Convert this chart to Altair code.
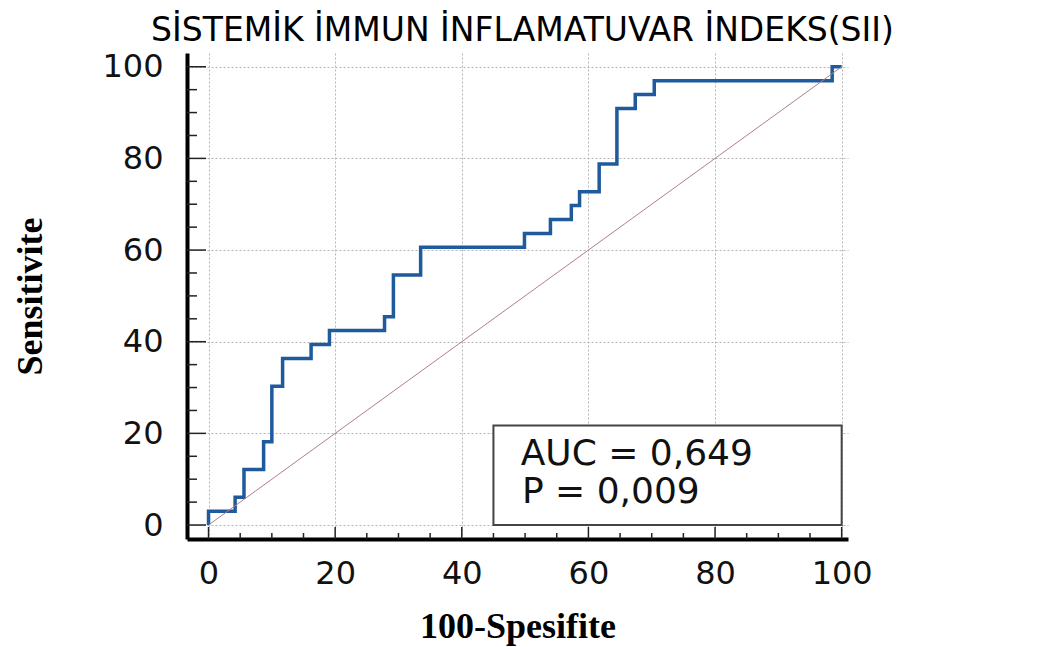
import altair as alt
import pandas as pd

# ROC curve vertices (100-Specificity, Sensitivity)
fpr = [0, 0, 4.2, 5.6, 8.7, 10.0, 11.7, 16.2, 19.1, 27.8, 29.2, 33.5, 49.9, 54.0,
       57.3, 58.6, 61.7, 64.5, 67.4, 70.4, 98.5, 100]
tpr = [0, 3.03, 6.06, 12.12, 18.18, 30.30, 36.36, 39.39, 42.42, 45.45, 54.55, 60.61,
       63.64, 66.67, 69.70, 72.73, 78.79, 90.91, 93.94, 96.97, 100, 100]

diag_x = [0, 100]
diag_y = [0, 100]

major_ticks = [0, 20, 40, 60, 80, 100]
minor_ticks = [5, 10, 15, 25, 30, 35, 45, 50, 55, 65, 70, 75, 85, 90, 95]

stat_lines = ["AUC = 0,649", "P = 0,009"]
stat_y = [13.1, 4.7]
stat_x = [49.3, 49.5]
box_x = [45]
box_x2 = [100]
box_y = [0]
box_y2 = [21.7]

TITLE = "SİSTEMİK İMMUN İNFLAMATUVAR İNDEKS(SII)"
XTITLE = "100-Spesifite"
YTITLE = "Sensitivite"

roc_df = pd.DataFrame({"x": fpr, "y": tpr, "i": list(range(len(fpr)))})
diag_df = pd.DataFrame({"x": diag_x, "y": diag_y})
major_df = pd.DataFrame({"x": major_ticks, "y": major_ticks})
minor_df = pd.DataFrame({"x": minor_ticks, "y": minor_ticks})
stat_df = pd.DataFrame({"x": stat_x, "y": stat_y, "t": stat_lines})
box_df = pd.DataFrame({"x": box_x, "x2": box_x2, "y": box_y, "y2": box_y2})
title_df = pd.DataFrame({"t": [TITLE]})

W, H = 661, 486

xscale = alt.Scale(domain=[-3.4, 101], nice=False, zero=False)
yscale = alt.Scale(domain=[-3.05, 103], nice=False, zero=False)

common_axis = dict(
    values=major_ticks, grid=True, gridDash=[2, 2], gridColor="#b5b5b5", gridWidth=1,
    domainColor="black", domainWidth=4, ticks=False, tickSize=0,
    labelFont="DejaVu Sans", labelFontSize=32, labelColor="#111111", format="d",
    titleFont="Liberation Serif", titleFontWeight="bold", titleFontSize=36,
    titleColor="black",
)

xaxis = alt.Axis(title=XTITLE, labelPadding=19, titlePadding=20, **common_axis)
yaxis = alt.Axis(title=YTITLE, labelPadding=24, titlePadding=52, **common_axis)

X = alt.X("x:Q", scale=xscale, axis=xaxis, title=XTITLE)
Y = alt.Y("y:Q", scale=yscale, axis=yaxis, title=YTITLE)

roc = alt.Chart(roc_df).mark_line(
    interpolate="step-after", color="#1f5a9c", strokeWidth=3.5
).encode(x=X, y=Y, order=alt.Order("i:Q"))

diag = alt.Chart(diag_df).mark_line(color="#b07f86", strokeWidth=1).encode(x=X, y=Y)

box = alt.Chart(box_df).mark_rect(fill="white", stroke="#444444", strokeWidth=2).encode(
    x=X, x2="x2:Q", y=Y, y2="y2:Q",
)

stats = alt.Chart(stat_df).mark_text(
    align="left", baseline="alphabetic", font="DejaVu Sans", fontSize=36, color="#111111"
).encode(x=X, y=Y, text="t:N")

y_major = alt.Chart(major_df).mark_rule(color="#222222", strokeWidth=1.5).encode(
    y=Y, x=alt.value(0), x2=alt.value(19)
)
y_minor = alt.Chart(minor_df).mark_rule(color="#222222", strokeWidth=1.5).encode(
    y=Y, x=alt.value(0), x2=alt.value(10)
)
x_major = alt.Chart(major_df).mark_rule(color="#222222", strokeWidth=1.5).encode(
    x=X, y=alt.value(H), y2=alt.value(H - 12)
)
x_minor = alt.Chart(minor_df).mark_rule(color="#222222", strokeWidth=1.5).encode(
    x=X, y=alt.value(H), y2=alt.value(H - 6)
)

title_mark = alt.Chart(title_df).mark_text(
    align="center", baseline="alphabetic", font="DejaVu Sans", fontSize=33, color="black"
).encode(text="t:N", x=alt.value(W / 2 + 5), y=alt.value(-12))

chart = alt.layer(
    roc, diag, box, stats, y_major, y_minor, x_major, x_minor, title_mark
).properties(
    width=W,
    height=H,
    autosize=alt.AutoSizeParams(type="none"),
    padding={"left": 179, "top": 45, "right": 190, "bottom": 112},
).configure(background="white").configure_view(stroke=None)

chart.save("out.html", embed_options={"renderer": "svg", "actions": False})
